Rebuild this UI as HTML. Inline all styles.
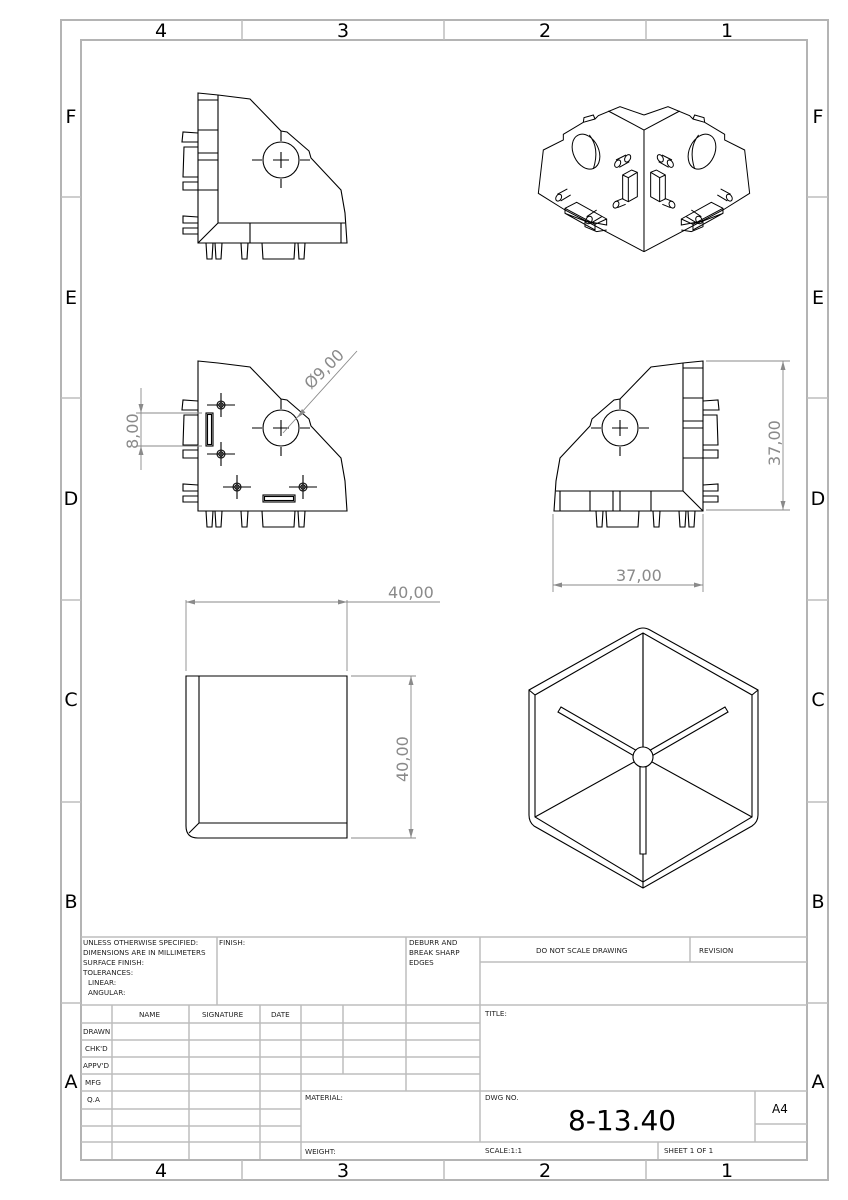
<!DOCTYPE html>
<html><head><meta charset="utf-8"><style>
html,body{margin:0;padding:0;background:#fff;}
svg{display:block;}
.b{stroke:#b4b4b4;stroke-width:2;fill:none;}
.t{stroke:#bdbdbd;stroke-width:1.5;fill:none;}
.k{stroke:#000;stroke-width:1.1;fill:none;}
.kf{stroke:#000;stroke-width:1.1;fill:#fff;}
.d{stroke:#8a8a8a;stroke-width:0.9;fill:none;}
.ar{fill:#8a8a8a;stroke:none;}
.z{font-family:"DejaVu Sans","Liberation Sans",sans-serif;font-size:19px;fill:#000;text-anchor:middle;}
.dt{font-family:"DejaVu Sans","Liberation Sans",sans-serif;font-size:16px;fill:#8a8a8a;}
.s{font-family:"DejaVu Sans","Liberation Sans",sans-serif;font-size:7.2px;fill:#222;}
</style></head><body>
<svg width="848" height="1200" viewBox="0 0 848 1200" xmlns="http://www.w3.org/2000/svg">
<defs>
<g id="body">
  <path class="k" d="M198,93 L218,95 L250,99 L281,131 L287,132 L309,151 L311,158 L341,190 L345,213 L347,243 L198,243 Z"/>
  <path class="k" d="M198,133 L183,132 L182,142 L198,142 M198,147 L184,147 L183,177 L198,177 M198,182 L183,182 L183,190 L198,190 M198,217 L183,216 L183,223 L198,223 M198,228 L183,228 L183,234 L198,234"/>
  <path class="k" d="M206,243 L207,259 L212,259 L213,243 M215,243 L216,259 L221,259 L222,243 M241,243 L242,259 L247,259 L248,243 M262,243 L263,259 L294,259 L295,243 M298,243 L299,259 L304,259 L305,243"/>
  <circle class="k" cx="281" cy="160" r="18"/>
  <path class="k" d="M273,160 H289 M281,152 V168 M252,160 H262 M300,160 H310 M281,131 V141 M281,179 V188"/>
</g>
</defs>
<!-- borders -->
<rect class="b" x="61" y="20" width="767" height="1160"/>
<rect class="b" x="81" y="40" width="726" height="1120"/>
<path class="t" d="M242,20V40 M444,20V40 M646,20V40 M242,1160V1180 M444,1160V1180 M646,1160V1180 M61,197H81 M61,398H81 M61,600H81 M61,802H81 M61,1003H81 M807,197H828 M807,398H828 M807,600H828 M807,802H828 M807,1003H828"/>
<text class="z" x="161" y="37">4</text><text class="z" x="343" y="37">3</text><text class="z" x="545" y="37">2</text><text class="z" x="727" y="37">1</text>
<text class="z" x="161" y="1177">4</text><text class="z" x="343" y="1177">3</text><text class="z" x="545" y="1177">2</text><text class="z" x="727" y="1177">1</text>
<g class="z"><text x="71" y="123">F</text><text x="71" y="304">E</text><text x="71" y="505">D</text><text x="71" y="706">C</text><text x="71" y="908">B</text><text x="71" y="1088">A</text>
<text x="818" y="123">F</text><text x="818" y="304">E</text><text x="818" y="505">D</text><text x="818" y="706">C</text><text x="818" y="908">B</text><text x="818" y="1088">A</text></g>

<!-- View 1 -->
<use href="#body"/>
<path class="k" d="M218,95 V223 M218,223 H345 M198,243 L218,223 M250,223 V243 M341,223 V243 M198,100 H218 M198,130 H218 M198,153 H218 M198,160 H218 M198,190 H218"/>

<!-- View 3 -->
<g transform="translate(0,268)"><use href="#body"/></g>
<g class="k">
 <circle cx="221" cy="405" r="4"/><circle cx="221" cy="405" r="2.2"/>
 <circle cx="221" cy="454" r="4"/><circle cx="221" cy="454" r="2.2"/>
 <circle cx="237" cy="487" r="4"/><circle cx="237" cy="487" r="2.2"/>
 <circle cx="303" cy="487" r="4"/><circle cx="303" cy="487" r="2.2"/>
 <path d="M207,405H235 M221,393V417 M207,454H235 M221,442V466 M223,487H251 M237,475V499 M289,487H317 M303,475V499"/>
 <rect x="206" y="413" width="7" height="33"/><rect x="207.5" y="414.5" width="4" height="30"/>
 <rect x="263" y="495" width="32" height="7"/><rect x="264.5" y="496.5" width="29" height="4"/>
</g>
<!-- 8,00 -->
<path class="d" d="M141,388 V470 M136,413 H202 M136,446 H202 M357,351 L283,433"/>
<path class="ar" d="M141,413 l-2.5,-9 h5 z M141,446 l-2.5,9 h5 z M297,418 l5,-9 l3.5,3.5 z"/>
<text class="dt" transform="translate(138,449) rotate(-90)">8,00</text>
<text class="dt" transform="translate(311,390) rotate(-45)">Ø9,00</text>

<!-- View 4 (mirror) -->
<g transform="translate(901,268) scale(-1,1)">
 <use href="#body"/>
 <path class="k" d="M218,95 V223 M218,223 H345 M198,243 L218,223 M250,223 V243 M341,223 V243 M311,223V243 M288,223V243 M281,223V243 M198,100 H218 M198,130 H218 M198,153 H218 M198,160 H218 M198,190 H218"/>
</g>
<path class="d" d="M706,361 H790 M706,510 H790 M783,361 V510 M553,514 V592 M703,514 V592 M553,585 H703"/>
<path class="ar" d="M783,361 l-2.5,9 h5 z M783,510 l-2.5,-9 h5 z M553,585 l9,-2.5 v5 z M703,585 l-9,-2.5 v5 z"/>
<text class="dt" transform="translate(780,466) rotate(-90)">37,00</text>
<text class="dt" x="616" y="581">37,00</text>

<!-- View 5 -->
<path class="k" d="M186,676 H347 V838 H198 Q186,838 186,826 Z M199,676 V823 H347 M199,823 L189,833"/>
<path class="d" d="M186,600 V671 M347,600 V671 M186,602 H440 M351,676 H416 M351,838 H416 M411,676 V838"/>
<path class="ar" d="M186,602 l9,-2.5 v5 z M347,602 l-9,-2.5 v5 z M411,676 l-2.5,9 h5 z M411,838 l-2.5,-9 h5 z"/>
<text class="dt" x="388" y="598">40,00</text>
<text class="dt" transform="translate(408,782) rotate(-90)">40,00</text>

<!-- View 6 hexagon -->
<path class="k" d="M636,630 Q643,626 650,630 L758,690 L758,815 Q758,822 752,826 L643,888 L534,826 Q529,822 529,815 L529,690 Z"/>
<path class="k" d="M643,633 L752,695 L752,817 L643,882 L535,817 L535,695 Z M643,633 L643,888 M529,690 L535,695 M758,690 L752,695"/>
<path class="k" d="M643,757 L643,633 M643,757 L535,817 M643,757 L752,817"/>
<path class="kf" d="M561,707 L558,712 L636,757 L639,752 Z M725,707 L728,712 L650,757 L647,752 Z M640,762 H646 V854 H640 Z"/>
<circle class="kf" cx="643" cy="757" r="10"/>

<!-- Iso view -->
<g transform="translate(530,95) scale(0.3333)">
 <g id="isoL" style="stroke:#000;stroke-width:3;fill:none">
  <path d="M342,60 L270,35 L205,62 L195,72 L160,82 L100,118 L100,135 L40,165 L25,295 L105,345 L342,470"/>
  <path d="M235,48 L342,105 V470"/>
  <path d="M160,82 L162,68 L190,60 L195,72"/>
  <ellipse cx="168" cy="170" rx="38" ry="55" transform="rotate(-25 168 170)"/>
  <path d="M178,120 Q210,160 190,222"/>
  <path d="M258,195 L288,180 M268,217 L298,200"/><ellipse cx="263" cy="206" rx="8" ry="12" transform="rotate(30 263 206)"/><ellipse cx="293" cy="190" rx="8" ry="12" transform="rotate(30 293 190)"/>
  <path d="M278,240 L305,225 L322,232 L322,305 L295,320 L278,312 Z M295,248 L322,232 M295,248 L295,320 M278,240 L295,248"/>
  <path d="M255,320 L280,310 M262,338 L287,328"/><ellipse cx="258" cy="329" rx="8" ry="11" transform="rotate(30 258 329)"/>
  <path d="M82,298 L112,282 M92,318 L122,300"/><ellipse cx="86" cy="308" rx="8" ry="11" transform="rotate(30 86 308)"/>
  <path d="M105,340 L140,322 L230,372 L230,390 L165,378 L105,355 Z M105,340 L195,388 L195,405 L105,355 M195,388 L230,372"/>
  <path d="M170,365 L200,345 M182,385 L215,365"/><ellipse cx="177" cy="375" rx="9" ry="12" transform="rotate(30 177 375)"/>
  <path d="M165,378 L165,395 L200,410 L230,405"/>
 </g>
 <use href="#isoL" transform="translate(684,0) scale(-1,1)"/>
</g>

<!-- Title block -->
<g class="t">
 <path d="M81,937 H807 M81,1005 H807 M480,962 H807 M217,937 V1005 M406,937 V1091 M480,937 V1142 M690,937 V962"/>
 <path d="M81,1023 H480 M81,1040 H480 M81,1057 H480 M81,1074 H480 M81,1091 H807 M81,1109 H301 M81,1126 H301 M81,1142 H807"/>
 <path d="M112,1005 V1159 M189,1005 V1159 M260,1005 V1159 M301,1005 V1159 M343,1005 V1074"/>
 <path d="M755,1091 V1142 M755,1124 H807 M658,1142 V1159"/>
</g>
<g class="s">
 <text x="83" y="945">UNLESS OTHERWISE SPECIFIED:</text>
 <text x="83" y="955">DIMENSIONS ARE IN MILLIMETERS</text>
 <text x="83" y="965">SURFACE FINISH:</text>
 <text x="83" y="975">TOLERANCES:</text>
 <text x="88" y="985">LINEAR:</text>
 <text x="88" y="995">ANGULAR:</text>
 <text x="219" y="945">FINISH:</text>
 <text x="409" y="945">DEBURR AND</text>
 <text x="409" y="955">BREAK SHARP</text>
 <text x="409" y="965">EDGES</text>
 <text x="536" y="953">DO NOT SCALE DRAWING</text>
 <text x="699" y="953">REVISION</text>
 <text x="485" y="1016">TITLE:</text>
 <text x="139" y="1017">NAME</text>
 <text x="202" y="1017">SIGNATURE</text>
 <text x="271" y="1017">DATE</text>
 <text x="83" y="1034">DRAWN</text>
 <text x="85" y="1051">CHK'D</text>
 <text x="83" y="1068">APPV'D</text>
 <text x="85" y="1085">MFG</text>
 <text x="87" y="1102">Q.A</text>
 <text x="305" y="1100">MATERIAL:</text>
 <text x="305" y="1154">WEIGHT:</text>
 <text x="485" y="1100">DWG NO.</text>
 <text x="485" y="1153">SCALE:1:1</text>
 <text x="664" y="1153">SHEET 1 OF 1</text>
</g>
<text x="568" y="1130" style="font-family:'DejaVu Sans','Liberation Sans',sans-serif;font-size:28px;fill:#000">8-13.40</text>
<text x="772" y="1113" style="font-family:'DejaVu Sans','Liberation Sans',sans-serif;font-size:12px;fill:#000">A4</text>
</svg>
</body></html>
